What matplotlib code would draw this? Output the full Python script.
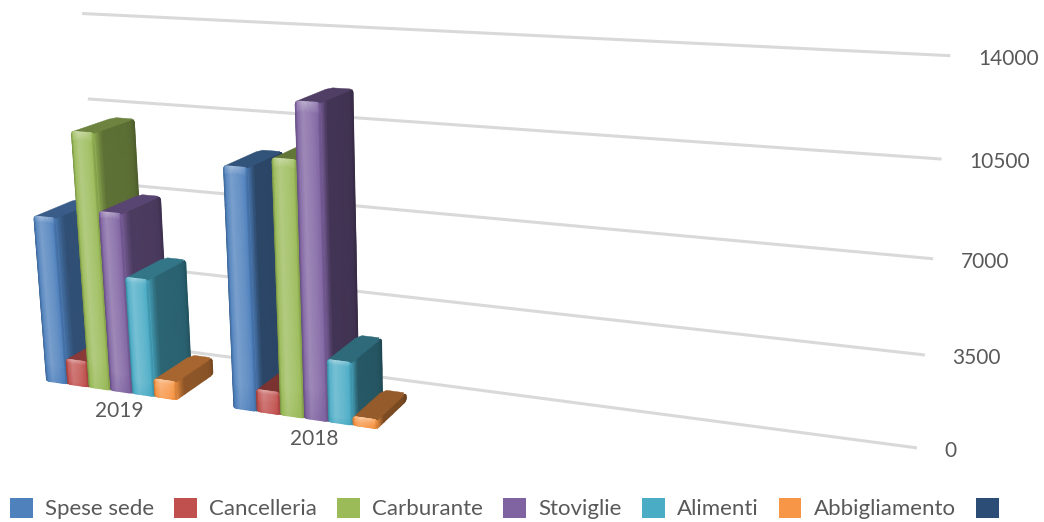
import numpy as np
import matplotlib
matplotlib.use("Agg")
import matplotlib.pyplot as plt
from matplotlib.collections import PolyCollection
from matplotlib.patches import Patch
from matplotlib.colors import to_rgb

plt.rcParams['font.family'] = ['Lato', 'DejaVu Sans']

categories = ['2019', '2018']
series_names = ['Spese sede', 'Cancelleria', 'Carburante', 'Stoviglie', 'Alimenti', 'Abbigliamento', ' ']
values_2019 = [6810, 1054, 10290, 7250, 4740, 734]
values_2018 = [9455, 890, 9894, 12026, 2460, 348]
axis_ticks = [0, 3500, 7000, 10500, 14000]
colors = ['#4f81bd', '#c0504d', '#9bbb59', '#8064a2', '#4bacc6', '#f79646', '#2c4d75']
TEXT = '#595959'

# camera: vanishing points of the three 3-D axes, in pixels
O = np.array([46.7, 381.0])
VX = np.array([-3800.0, -175.0])
VS = np.array([1037.0, -199.0])
VZ = np.array([465.0, 5760.0])
TX, CZ = -0.005477, -4.37e-6
CAT_STEP, BAR_W, DEPTH = 8.477, 0.96, 0.0426
WALL_S, WALL_X0, WALL_X1 = 0.0725, -0.486, 33.35


def proj(X, s, v):
    t = TX * X
    c = CZ * v
    w = 1 + t + s + c
    return (O + t * VX + s * VS + c * VZ) / w


fig = plt.figure(figsize=(10.44, 5.22), dpi=100)
ax = fig.add_axes([0, 0, 1, 1])
ax.set_xlim(0, 1044)
ax.set_ylim(522, 0)
ax.axis('off')

for tick in axis_ticks:
    a = proj(WALL_X0, WALL_S, tick)
    b = proj(WALL_X1, WALL_S, tick)
    ax.plot([a[0], b[0]], [a[1], b[1]], color='#d9d9d9', lw=2.2, zorder=1, solid_capstyle='butt')
    ax.text(b[0] + 27.5, b[1] + 3, str(tick), color=TEXT, fontsize=15, ha='left', va='center')


def shade(c, m):
    c = np.array(to_rgb(c))
    if m <= 1:
        return c * m
    return np.clip(c + (1 - c) * (m - 1) * 1.6, 0, 1)


def round_cut(q, r=0.25):
    """how far a corner is rounded at position q (0..1) across a face"""
    d = max(0.0, abs(q - 0.5) / 0.5 - (1 - r)) / r
    return 1 - np.sqrt(max(0.0, 1 - d ** 2))


def mesh(nodes, cols, z):
    P = np.array(nodes)
    ax.pcolormesh(P[..., 0], P[..., 1], np.array(cols), shading='gouraud', zorder=z)


def draw_bar(X0, v, col, z):
    X1 = X0 + BAR_W
    bev = min(120, 0.35 * v)
    side_m = 0.62 - 0.0085 * X0

    # side face
    ss = [0, 0.02, 0.06, 0.14, 0.22, 0.5, 0.8, 0.92, 0.97, 1]
    rows = [0, 0.5, 1]
    nodes, cols = [], []
    for fr in rows:
        rn, rc = [], []
        for q in ss:
            cut = bev * (1 - np.sqrt(max(0.0, 1 - (max(0.0, q - 0.9) / 0.1) ** 2)))
            rn.append(proj(X1, q * DEPTH, cut * 0.6 + (v - 1.6 * cut) * fr))
            rc.append(shade(col, float(np.interp(q, [0, 0.05, 0.2, 0.9, 1], [1.0, 0.85, side_m, side_m * 0.97, side_m * 0.82]))))
        nodes.append(rn)
        cols.append(rc)
    mesh(nodes, cols, z)

    # top face
    ch = 0.12
    top = [proj(X0, 0, v), proj(X1, 0, v), proj(X1, DEPTH * (1 - ch), v), proj(X1 - ch, DEPTH, v),
           proj(X0 + ch, DEPTH, v), proj(X0, DEPTH * (1 - ch), v)]
    tc = tuple(shade(col, side_m + 0.1))
    ax.add_collection(PolyCollection([top], facecolors=[tc], edgecolors=[tc], linewidths=0.3, zorder=z + 0.1))

    # front face
    us = [0, 0.02, 0.05, 0.09, 0.14, 0.2, 0.3, 0.5, 0.7, 0.8, 0.86, 0.91, 0.95, 0.98, 1]
    fr = [0, 0.1, 0.5, 0.85, 0.93, 0.97, 1]
    nodes, cols = [], []
    for f in fr:
        rn, rc = [], []
        for u in us:
            cut = bev * round_cut(u)
            vv = cut * 0.6 + (v - 1.6 * cut) * f
            dist = v - vv
            mu = float(np.interp(u, [0, 0.08, 0.3, 0.7, 0.92, 1], [0.8, 1.03, 1.15, 1.08, 1.02, 0.85]))
            mv = 1.0 + 0.14 * max(0.0, 1 - dist / 180) - 0.05 * max(0.0, 1 - vv / 150)
            rn.append(proj(X0 + u * BAR_W, 0, vv))
            rc.append(shade(col, mu * mv))
        nodes.append(rn)
        cols.append(rc)
    mesh(nodes, cols, z + 0.2)


data = [values_2019, values_2018]
for g, vals in enumerate(data):
    for i, v in enumerate(vals):
        draw_bar(g * CAT_STEP + i, v, colors[i], 2 + g * 5 + i * 0.5)
    c = proj(g * CAT_STEP + 3, 0, 0)
    ax.text(c[0] + 8 + g, c[1] + 20.5, categories[g], color=TEXT, fontsize=15, ha='center', va='center', zorder=20)

handles = [Patch(facecolor=c, edgecolor='none') for c in colors]
ax.legend(handles, series_names, loc='lower left', bbox_to_anchor=(10 / 1044, 0.005), ncol=7, frameon=False,
          fontsize=16, labelcolor=TEXT, handlelength=1.03, handleheight=1.0, handletextpad=0.55,
          columnspacing=0.9, borderpad=0, borderaxespad=0)

fig.savefig('out.png', dpi=100)
